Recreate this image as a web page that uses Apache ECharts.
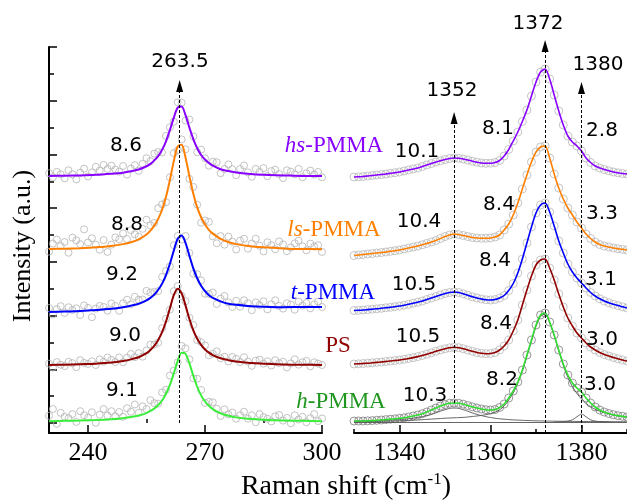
<!DOCTYPE html>
<html>
<head>
<meta charset="utf-8">
<script src="https://cdn.jsdelivr.net/npm/echarts@6/dist/echarts.min.js"></script>
<style>
  html, body { margin: 0; padding: 0; background: #fff; }
  #chart { width: 627px; height: 502px; }
</style>
</head>
<body>
<div id="chart"></div>
<script>
// ---- left band (~263.5 cm-1), heights above each trace's baseline ----
var leftFitX = [230,234,238,242,246,249,251,253,255,256,257,258,259,260,261,262,263,264,265,266,267,268,269,270,271,272,274,276,278,281,285,290,295,300];
var hsFit = [0.03,0.04,0.05,0.07,0.11,0.15,0.20,0.27,0.39,0.48,0.61,0.77,1.00,1.32,1.74,2.20,2.57,2.61,2.29,1.83,1.40,1.06,0.81,0.64,0.51,0.41,0.28,0.21,0.16,0.11,0.07,0.05,0.03,0.03];
var lsFit = [0.05,0.06,0.08,0.11,0.16,0.23,0.30,0.41,0.59,0.73,0.92,1.17,1.51,1.99,2.62,3.32,3.87,3.93,3.46,2.76,2.11,1.60,1.23,0.96,0.76,0.62,0.43,0.31,0.23,0.16,0.11,0.07,0.05,0.04];
var tFit  = [0.03,0.05,0.07,0.11,0.15,0.21,0.27,0.34,0.47,0.56,0.68,0.86,1.09,1.41,1.83,2.32,2.76,2.88,2.61,2.13,1.66,1.29,1.01,0.81,0.66,0.56,0.43,0.34,0.30,0.26,0.23,0.21,0.22,0.22];
var psFit = [0.03,0.04,0.06,0.08,0.12,0.18,0.24,0.32,0.47,0.59,0.74,0.96,1.25,1.65,2.14,2.63,2.87,2.70,2.25,1.74,1.32,1.01,0.78,0.61,0.49,0.40,0.28,0.21,0.16,0.11,0.08,0.05,0.04,0.03];
var hFit  = [0.03,0.04,0.05,0.07,0.10,0.14,0.18,0.24,0.33,0.41,0.50,0.63,0.80,1.05,1.38,1.81,2.27,2.58,2.54,2.18,1.72,1.31,0.99,0.76,0.60,0.48,0.32,0.23,0.17,0.12,0.08,0.05,0.04,0.03];

// measured points, one per cm-1 from 230 to 300
var hsDots = [.13,-.02,.18,.09,-.06,.24,.09,-.10,.15,.30, .01,.16,.37,.23,.44,.29,.41,.27,.19,.40, .08,.30,.43,.22,.48,.69,.58,.86,.92,.90,
  1.52,1.84,2.05,2.77,2.76,2.09,2.13,1.50,.91,1.01, .69,.41,.56,.54,.13,.29,.46,.28,.06,.29, .42,.16,.00,.29,.18,.32,.02,.21,.26,.10, -.05,.24,.19,.09,.29,-.02,.13,.23,.08,.18,-.02];
var lsDots = [-.05,.25,.40,.16,.31,-.09,.47,.37,.23,.78, .29,.45,.21,.02,.38,-.06,.21,.48,.41,.63, .42,.75,.60,.51,.80,1.14,.93,1.02,1.57,1.71,
  1.79,2.72,3.62,3.72,4.13,3.76,2.66,2.36,1.70,1.03, 1.11,1.06,.52,.26,.53,.21,.51,.32,.03,.36, .43,.06,.25,.43,.17,-.04,.30,.19,.04,.33, .22,-.03,.11,.26,.36,.15,.00,.25,.14,.19,-.06];
var tDots = [.18,-.06,.14,.25,.00,.21,.11,.17,-.08,.28, .19,-.16,.16,.26,.22,.08,.35,.26,.08,.36, .49,.32,.60,.49,.50,.82,.76,.78,.81,1.34,
  1.56,1.73,2.52,2.86,2.73,2.86,2.23,1.46,1.44,1.21, .71,.71,.76,.33,.53,.63,.39,.22,.45,.23, .47,.36,.10,.39,.29,.43,.13,.32,.47,.26, .16,.36,.31,.12,.42,.27,.37,.17,.32,.42,.22];
var psDots = [.08,-.06,.14,.04,-.01,.15,.10,-.05,.21,.11, .07,.17,.03,.24,.15,.31,.22,.14,.31,.13, .30,.44,.32,.47,.34,.57,.79,.79,.86,1.40,
  1.75,2.09,2.78,2.97,2.60,2.40,1.79,1.52,.96,.88, .76,.39,.45,.54,.28,.34,.16,.33,.26,.14, .32,.16,.00,.19,.23,.08,.17,.01,.21,.10, .15,-.06,.09,.24,.04,.13,.18,-.02,.13,.08,.03];
var hDots = [.23,.48,-.07,.34,.19,.14,.29,.00,.40,.25, .16,.36,-.03,.27,.48,.24,.40,.21,.37,.19, .51,.38,.65,.34,.58,.48,.81,.70,.68,1.10,
  1.20,1.73,1.91,2.22,2.83,2.74,2.33,1.62,1.61,1.19, .71,.75,.73,.49,.22,.47,.28,.35,.12,.25, .38,.12,.25,-.01,.29,.18,.12,.02,.21,.26, .05,.15,-.05,.25,.09,.19,-.01,.14,.29,.03,.13];

// ---- right band (1330-1390 cm-1), one value per cm-1, a.u. above baseline ----
var hsR = [0,.2,.5,1,1.5,2,2.5,3,3.7,4.3, 5,6,7,8,9,10.5,12,13.5,15,16.2, 17.5,18.5,19,18.7,18,17,15.8,14.8,14,13.7,
  13.8,14.5,16.5,21,27.5,36,45,55.5,67,81, 95,105,108,98,82,66,52,41,35,31, 26,19,14.5,11,9,7.5,6.2,5,4.2,3.5, 3];
var lsR = [0,.5,1,1.5,2,2.5,3,3.5,4.2,4.8, 5.5,6.5,7.5,8.5,9.5,10.7,12,13.5,15,17, 19,20.5,21.5,21,20,19,18,17.5,17.2,17.2,
  17.5,18.5,20.5,25.5,31.5,40.5,52.5,66.5,80.5,93.5, 103.5,108.5,109.5,97.5,81.5,67.5,56.5,47.5,40.5,33.5, 27.5,21.5,17,13.5,11,9.5,8.5,7.5,6.8,6.2, 5.5];
var tR = [0,.2,.5,.9,1.3,1.7,2.2,2.7,3.2,3.8, 4.5,5.3,6.2,7.2,8.3,9.5,11,12.5,14,15.5, 17,18,18.5,18,16.7,15.2,13.7,12.5,11.5,10.7,
  10.5,11,12.5,15,20,27,37.5,51.5,67.5,83.5, 97.5,105.5,107.5,98.5,84.5,69.5,57.5,46.5,38.5,32.5, 27.5,22.5,18,14.5,11.7,9.5,7.7,6.2,4.9,3.7, 2.5];
var psR = [0,.2,.5,.8,1.2,1.6,2,2.5,3,3.5, 4,4.7,5.5,6.4,7.4,8.5,9.8,11.2,12.7,14, 15.2,16.2,16.7,16.3,15.3,14,12.7,11.5,10.7,10.3,
  10.5,11.5,14,18,24,33,44,59,74,88, 99,104,105,96,84,70,57,46,38,31, 26,21,17,14,11.5,9.5,8,6.5,5.2,4, 3];
var hR = [1,1,1,1.2,1.4,1.7,2,2.4,2.8,3.2, 3.7,4.2,5,6,7,8.3,10,12,14,16, 17.5,18.7,19,18.7,17.8,16.5,15.2,14,13,12.3,
  12,12.5,14.5,18,24,31,40,52,67,82, 97,107,109,100,87,72,58,47,39,34, 30,24,19,15,12,10,8.5,7.3,6.4,5.7, 5];
// h-PMMA fitted components
var c1352 = [.8,.9,1,1.1,1.2,1.3,1.5,1.7,1.9,2.1, 2.4,2.8,3.2,3.8,4.5,5.3,6.4,7.6,9.1,10.8, 12.3,13.6,14,13.6,12.3,10.8,9.1,7.6,6.4,5.3,
  4.5,3.8,3.2,2.8,2.4,2.1,1.9,1.7,1.5,1.3, 1.2,1.1,1,.9,.8,.75,.7,.65,.6,.55, .5,.5,.45,.42,.4,.38,.36,.34,.32,.3, .3];
var c1372 = [.3,.35,.4,.45,.5,.6,.7,.8,.9,1, 1.2,1.4,1.6,1.8,2,2.3,2.6,2.9,3.2,3.5, 3.8,4,4.2,4.4,4.6,5,5.5,6,6.6,7.3,
  8.3,9.8,12.2,16,22,29,38.5,50.5,65.5,80.5, 95.5,105.5,108,99,86,71,56.5,44.5,35.5,28.5, 23,18.5,15.2,12.7,10.8,9.4,8.1,7,6.1,5.4, 4.7];
var c1380X = [1374,1375,1376,1377,1378,1379,1380,1381,1382,1383,1384,1385,1386];
var c1380 = [0,0,.4,.9,2.2,5.2,8,5.2,2.2,.9,.4,.2,0];

var leftTicks = [240, 270, 300], leftMinor = [255, 285];
var rightTicks = [1340, 1360, 1380], rightMinor = [1330, 1350, 1370, 1390];

var leftDotX = [];
for (var i = 230; i <= 300; i++) leftDotX.push(i);
var rightX = [];
for (var j = 1330; j <= 1390; j++) rightX.push(j);

var traces = [
  {name: 'hs', color: '#8800ff', fit: hsFit, dots: hsDots, r: hsR, lb: 9.17, rb: 256},
  {name: 'ls', color: '#ff8000', fit: lsFit, dots: lsDots, r: lsR, lb: 6.43, rb: 177.5},
  {name: 't',  color: '#0000ff', fit: tFit,  dots: tDots,  r: tR,  lb: 4.10, rb: 122.5},
  {name: 'PS', color: '#900000', fit: psFit, dots: psDots, r: psR, lb: 2.13, rb: 69},
  {name: 'h',  color: '#3aee3a', fit: hFit,  dots: hDots,  r: hR,  lb: 0.04, rb: 11}
];

function shift(xs, ys, b) {
  return xs.map(function (x, k) { return [x, b + ys[k]]; });
}

var dash = {color: '#000', width: 1, type: [3, 2]};
var arrowHead = 'path://M-6,0 M6,0 M0,0 L3.5,12 L-3.5,12 Z';

var series = [];
traces.forEach(function (t) {
  series.push({
    type: 'scatter', xAxisIndex: 0, yAxisIndex: 0, silent: true, z: 1,
    data: shift(leftDotX, t.dots, t.lb), symbolSize: 7,
    itemStyle: {color: 'rgba(0,0,0,0)', borderColor: '#b4b4b4', borderWidth: 1}
  });
  series.push({
    type: 'scatter', xAxisIndex: 2, yAxisIndex: 2, silent: true, z: 1,
    data: shift(rightX, t.r, t.rb), symbolSize: 8,
    itemStyle: {color: 'rgba(0,0,0,0)', borderColor: t.name === 'h' ? '#7d7d7d' : '#b8b8b8', borderWidth: 1}
  });
});
// h-PMMA components and baseline
[c1352, c1372].forEach(function (c) {
  series.push({
    type: 'line', xAxisIndex: 2, yAxisIndex: 2, silent: true, z: 2, showSymbol: false, smooth: 0.3,
    data: shift(rightX, c, 11), lineStyle: {color: '#555', width: 0.9}
  });
});
series.push({
  type: 'line', xAxisIndex: 2, yAxisIndex: 2, silent: true, z: 2, showSymbol: false, smooth: 0.3,
  data: shift(c1380X, c1380, 11), lineStyle: {color: '#555', width: 0.9},
  markLine: {silent: true, symbol: 'none', label: {show: false}, lineStyle: {color: '#555', width: 0.9, type: 'solid'},
    data: [{yAxis: 11}]}
});
traces.forEach(function (t) {
  series.push({
    type: 'line', xAxisIndex: 0, yAxisIndex: 0, silent: true, z: 3, showSymbol: false, smooth: 0.3,
    data: shift(leftFitX, t.fit, t.lb), lineStyle: {color: t.color, width: 2}
  });
  series.push({
    type: 'line', xAxisIndex: 2, yAxisIndex: 2, silent: true, z: 3, showSymbol: false, smooth: 0.3,
    data: shift(rightX, t.r, t.rb), lineStyle: {color: t.name === 'h' ? '#30dc30' : t.color, width: 1.6}
  });
});
// peak markers
series.push({
  type: 'line', xAxisIndex: 0, yAxisIndex: 0, data: [], silent: true,
  markLine: {silent: true, symbol: ['none', arrowHead], symbolSize: 12, label: {show: false}, lineStyle: dash,
    data: [[{coord: [263.5, 0]}, {coord: [263.5, 12.55]}]]}
});
series.push({
  type: 'line', xAxisIndex: 2, yAxisIndex: 2, data: [], silent: true,
  markLine: {silent: true, symbol: ['none', arrowHead], symbolSize: 12, label: {show: false}, lineStyle: dash,
    data: [
      [{coord: [1352, 30]}, {coord: [1352, 315]}],
      [{coord: [1372, 0]}, {coord: [1372, 387]}],
      [{coord: [1380, 0]}, {coord: [1380, 345]}]
    ]}
});

var numFont = '20px "DejaVu Sans"';
var numbers = [
  ['263.5', 180, 62], ['8.6', 126, 146], ['8.8', 127, 225], ['9.2', 122, 275], ['9.0', 125, 336], ['9.1', 122, 391],
  ['1372', 538, 24], ['1380', 598, 65], ['1352', 452, 91],
  ['8.1', 498, 129], ['2.8', 602, 131], ['10.1', 417, 152],
  ['8.4', 499, 205], ['3.3', 602, 214], ['10.4', 419, 222],
  ['8.4', 495, 261], ['3.1', 601, 280], ['10.5', 414, 285],
  ['8.4', 496, 324], ['3.0', 602, 340], ['10.5', 418, 337],
  ['8.2', 502, 380], ['3.0', 600, 385], ['10.3', 425, 396]
];
var names = [
  ['hs', '-PMMA', '#8800ff', 334, 146],
  ['ls', '-PMMA', '#ff8000', 334, 230],
  ['t', '-PMMA', '#0000ff', 333, 293],
  ['', 'PS', '#900000', 338, 346],
  ['h', '-PMMA', '#1f961f', 341, 402]
];

var graphics = numbers.map(function (n) {
  return {type: 'text', x: n[1], y: n[2], silent: true, z: 10,
    style: {text: n[0], font: numFont, fill: '#000', align: 'center', verticalAlign: 'middle', textAlign: 'center', textVerticalAlign: 'middle'}};
});
names.forEach(function (n) {
  graphics.push({type: 'text', x: n[3], y: n[4], silent: true, z: 10,
    style: {text: (n[0] ? '{i|' + n[0] + '}' : '') + '{n|' + n[1] + '}', align: 'center', verticalAlign: 'middle',
      textAlign: 'center', textVerticalAlign: 'middle',
      rich: {
        i: {fontFamily: 'Liberation Serif', fontSize: 23, fontStyle: 'italic', fill: n[2], color: n[2]},
        n: {fontFamily: 'Liberation Serif', fontSize: 23, fill: n[2], color: n[2]}
      }}});
});
graphics.push({type: 'text', x: 23, y: 246, rotation: Math.PI / 2, silent: true,
  style: {text: 'Intensity (a.u.)', font: '26px "Liberation Serif"', fill: '#000', align: 'center', verticalAlign: 'middle',
    textAlign: 'center', textVerticalAlign: 'middle'}});
graphics.push({type: 'text', x: 346, y: 487, silent: true,
  style: {text: '{a|Raman shift (cm}{s|-1}{a|)}', align: 'center', verticalAlign: 'middle', textAlign: 'center', textVerticalAlign: 'middle',
    rich: {
      a: {fontFamily: 'Liberation Serif', fontSize: 28, lineHeight: 32, fill: '#000', color: '#000'},
      s: {fontFamily: 'Liberation Serif', fontSize: 17, lineHeight: 32, verticalAlign: 'top', fill: '#000', color: '#000'}
    }}});

var axisLine = {show: true, onZero: false, lineStyle: {color: '#000', width: 2}};
var tickStyle = {color: '#000', width: 1.5};
var tickFont = {fontFamily: 'Liberation Serif', fontSize: 26, color: '#000', margin: 7,
  formatter: function (v) { return String(v); }};

var option = {
  animation: false,
  backgroundColor: '#fff',
  grid: [
    {left: 49, top: 47, width: 273, height: 386},
    {left: 354, top: 30, width: 273, height: 403}
  ],
  xAxis: [
    {gridIndex: 0, type: 'value', min: 230, max: 300, position: 'bottom', axisLine: axisLine, splitLine: {show: false},
      axisTick: {inside: true, length: 8, lineStyle: tickStyle, customValues: leftTicks},
      axisLabel: Object.assign({customValues: leftTicks}, tickFont)},
    {gridIndex: 0, type: 'value', min: 230, max: 300, position: 'bottom', axisLine: {show: false}, splitLine: {show: false},
      axisTick: {inside: true, length: 4, lineStyle: tickStyle, customValues: leftMinor}, axisLabel: {show: false}},
    {gridIndex: 1, type: 'value', min: 1330, max: 1390, position: 'bottom', axisLine: axisLine, splitLine: {show: false},
      axisTick: {inside: true, length: 8, lineStyle: tickStyle, customValues: rightTicks},
      axisLabel: Object.assign({customValues: rightTicks}, tickFont)},
    {gridIndex: 1, type: 'value', min: 1330, max: 1390, position: 'bottom', axisLine: {show: false}, splitLine: {show: false},
      axisTick: {inside: true, length: 4, lineStyle: tickStyle, customValues: rightMinor}, axisLabel: {show: false}}
  ],
  yAxis: [
    {gridIndex: 0, type: 'value', min: -0.372, max: 14, position: 'left', axisLine: axisLine, splitLine: {show: false},
      axisTick: {inside: true, length: 8, lineStyle: tickStyle, customValues: [0, 2, 4, 6, 8, 10, 12, 14]}, axisLabel: {show: false}},
    {gridIndex: 0, type: 'value', min: -0.372, max: 14, position: 'left', axisLine: {show: false}, splitLine: {show: false},
      axisTick: {inside: true, length: 5, lineStyle: tickStyle, customValues: [1, 3, 5, 7, 9, 11, 13]}, axisLabel: {show: false}},
    {gridIndex: 1, type: 'value', min: 0, max: 403, show: false}
  ],
  series: series,
  graphic: graphics
};

var chart = echarts.init(document.getElementById('chart'));
chart.setOption(option);
</script>
</body>
</html>
